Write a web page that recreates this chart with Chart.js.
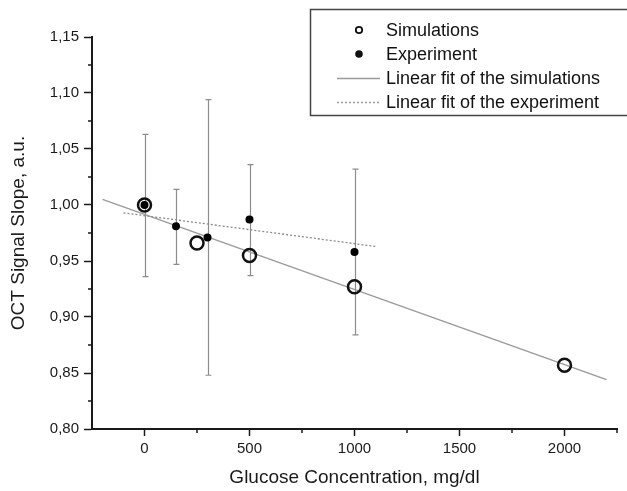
<!DOCTYPE html>
<html>
<head>
<meta charset="utf-8">
<script src="https://cdn.jsdelivr.net/npm/chart.js@4"></script>
<style>
  html, body { margin: 0; padding: 0; background: #fff; }
  canvas { display: block; }
</style>
</head>
<body>
<canvas id="glucoseChart" width="627" height="491"></canvas>
<script>
// simulated points
const simX = [0, 250, 500, 1000, 2000];
const simY = [1.000, 0.966, 0.955, 0.927, 0.857];

// measured points with error bars
const expX = [0, 150, 300, 500, 1000];
const expY = [1.000, 0.981, 0.971, 0.987, 0.958];
const expLow = [0.936, 0.947, 0.848, 0.937, 0.884];
const expHigh = [1.063, 1.014, 1.094, 1.036, 1.032];

// end points of the two fitted lines
const simFitX = [-200, 2200];
const simFitY = [1.005, 0.844];
const expFitX = [-100, 1100];
const expFitY = [0.993, 0.963];

// axis ticks
const xTicks = [0, 500, 1000, 1500, 2000];
const xMinorTicks = [250, 750, 1250, 1750, 2250];
const yTicks = [0.80, 0.85, 0.90, 0.95, 1.00, 1.05, 1.10, 1.15];
const yMinorTicks = [0.825, 0.875, 0.925, 0.975, 1.025, 1.075, 1.125];

const toPoints = (xs, ys) => xs.map((x, i) => ({ x: x, y: ys[i] }));
const FONT = '"Liberation Sans", Arial, sans-serif';
const AXIS_COLOR = '#1a1a1a';

// error bars for the experiment
const errorBarPlugin = {
    id: 'errorBars',
    beforeDatasetsDraw(chart) {
        const ctx = chart.ctx;
        const xs = chart.scales.x;
        const ys = chart.scales.y;
        ctx.save();
        ctx.strokeStyle = '#8c8c8c';
        ctx.lineWidth = 1.2;
        expX.forEach((x, i) => {
            const px = Math.round(xs.getPixelForValue(x)) + 0.5;
            const top = ys.getPixelForValue(expHigh[i]);
            const bot = ys.getPixelForValue(expLow[i]);
            ctx.beginPath();
            ctx.moveTo(px, top);
            ctx.lineTo(px, bot);
            ctx.moveTo(px - 3, top);
            ctx.lineTo(px + 3, top);
            ctx.moveTo(px - 3, bot);
            ctx.lineTo(px + 3, bot);
            ctx.stroke();
        });
        ctx.restore();
    }
};

// minor tick marks (shorter than the major ones)
const minorTickPlugin = {
    id: 'minorTicks',
    afterDraw(chart) {
        const ctx = chart.ctx;
        const area = chart.chartArea;
        ctx.save();
        ctx.strokeStyle = AXIS_COLOR;
        ctx.lineWidth = 1.5;
        ctx.beginPath();
        xMinorTicks.forEach(v => {
            const px = chart.scales.x.getPixelForValue(v);
            ctx.moveTo(px, area.bottom);
            ctx.lineTo(px, area.bottom + 4);
        });
        yMinorTicks.forEach(v => {
            const py = chart.scales.y.getPixelForValue(v);
            ctx.moveTo(area.left, py);
            ctx.lineTo(area.left - 4, py);
        });
        ctx.stroke();
        ctx.restore();
    }
};

// boxed legend in the top right corner
const legendBoxPlugin = {
    id: 'legendBox',
    afterDraw(chart) {
        const ctx = chart.ctx;
        const left = 310.5, top = 9.5, width = 320, height = 106;
        ctx.save();
        ctx.fillStyle = '#fff';
        ctx.fillRect(left, top, width, height);
        ctx.strokeStyle = '#444';
        ctx.lineWidth = 1.5;
        ctx.strokeRect(left, top, width, height);

        const rows = [30, 54, 78, 102];
        const labels = ['Simulations', 'Experiment', 'Linear fit of the simulations', 'Linear fit of the experiment'];
        const symX = 359;

        // open circle
        ctx.strokeStyle = '#111';
        ctx.lineWidth = 1.8;
        ctx.beginPath();
        ctx.arc(symX, rows[0], 3.2, 0, Math.PI * 2);
        ctx.stroke();
        // filled dot
        ctx.fillStyle = '#111';
        ctx.beginPath();
        ctx.arc(symX, rows[1], 3.8, 0, Math.PI * 2);
        ctx.fill();
        // solid line
        ctx.strokeStyle = '#9a9a9a';
        ctx.lineWidth = 1.3;
        ctx.beginPath();
        ctx.moveTo(337, rows[2] + 0.5);
        ctx.lineTo(380, rows[2] + 0.5);
        ctx.stroke();
        // dotted line
        ctx.setLineDash([2, 2]);
        ctx.beginPath();
        ctx.moveTo(337, rows[3] + 0.5);
        ctx.lineTo(380, rows[3] + 0.5);
        ctx.stroke();
        ctx.setLineDash([]);

        ctx.fillStyle = '#111';
        ctx.font = '18px ' + FONT;
        ctx.textBaseline = 'middle';
        ctx.textAlign = 'left';
        labels.forEach((t, i) => ctx.fillText(t, 386, rows[i] + 1));
        ctx.restore();
    }
};

new Chart(document.getElementById('glucoseChart'), {
    type: 'scatter',
    data: {
        datasets: [
            {
                label: 'Experiment',
                data: toPoints(expX, expY),
                pointRadius: 4,
                pointBackgroundColor: '#000',
                pointBorderColor: '#000',
                pointBorderWidth: 0,
                order: 0,
            },
            {
                label: 'Simulations',
                data: toPoints(simX, simY),
                pointRadius: 6.5,
                pointBackgroundColor: 'rgba(0,0,0,0)',
                pointBorderColor: '#111',
                pointBorderWidth: 2.5,
                order: 1,
            },
            {
                label: 'Linear fit of the simulations',
                data: toPoints(simFitX, simFitY),
                showLine: true,
                pointRadius: 0,
                borderColor: '#9a9a9a',
                borderWidth: 1.3,
                order: 2,
            },
            {
                label: 'Linear fit of the experiment',
                data: toPoints(expFitX, expFitY),
                showLine: true,
                pointRadius: 0,
                borderColor: '#8a8a8a',
                borderWidth: 1.3,
                borderDash: [2, 2],
                order: 3,
            },
        ],
    },
    options: {
        responsive: false,
        animation: false,
        layout: {
            padding: { top: 37, right: 10, left: 0, bottom: 0 },
        },
        plugins: {
            legend: { display: false },
            tooltip: { enabled: false },
        },
        scales: {
            x: {
                type: 'linear',
                min: -250,
                max: 2250,
                afterBuildTicks: (axis) => { axis.ticks = xTicks.map(v => ({ value: v })); },
                afterFit: (axis) => { axis.height = 62; },
                grid: {
                    drawOnChartArea: false,
                    drawTicks: true,
                    tickLength: 7,
                    tickColor: AXIS_COLOR,
                    tickWidth: 1.5,
                },
                border: { display: true, color: AXIS_COLOR, width: 2 },
                ticks: {
                    font: { family: FONT, size: 15 },
                    color: AXIS_COLOR,
                    padding: 4,
                    maxRotation: 0,
                    callback: (v) => String(v),
                },
                title: {
                    display: true,
                    text: 'Glucose Concentration, mg/dl',
                    font: { family: FONT, size: 19 },
                    color: AXIS_COLOR,
                    padding: { top: 6, bottom: 2 },
                },
            },
            y: {
                type: 'linear',
                min: 0.8,
                max: 1.15,
                afterBuildTicks: (axis) => { axis.ticks = yTicks.map(v => ({ value: v })); },
                afterFit: (axis) => { axis.width = 92; },
                grid: {
                    drawOnChartArea: false,
                    drawTicks: true,
                    tickLength: 8,
                    tickColor: AXIS_COLOR,
                    tickWidth: 1.5,
                },
                border: { display: true, color: AXIS_COLOR, width: 2 },
                ticks: {
                    font: { family: FONT, size: 15 },
                    color: AXIS_COLOR,
                    padding: 5,
                    callback: (v) => v.toFixed(2).replace('.', ','),
                },
                title: {
                    display: true,
                    text: 'OCT Signal Slope, a.u.',
                    font: { family: FONT, size: 19 },
                    color: AXIS_COLOR,
                    padding: { top: 7, bottom: 4 },
                },
            },
        },
    },
    plugins: [errorBarPlugin, minorTickPlugin, legendBoxPlugin],
});
</script>
</body>
</html>
